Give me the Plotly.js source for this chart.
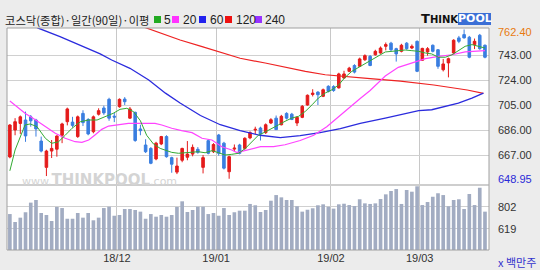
<!DOCTYPE html>
<html><head><meta charset="utf-8">
<script src="https://cdn.plot.ly/plotly-3.0.1.min.js"></script>
<style>html,body{margin:0;padding:0;background:#ececec;}#chart{width:540px;height:270px;}</style>
</head><body><div id="chart"></div>
<script>
// ---- data ----
const opens  = [665.5,686,691,693.6,696,693.6,677.6,657.6,670,671.4,682,692.3,692,681,698.6,694,684.7,698,702.7,709.3,696.5,703.7,709.5,695,699.4,686.8,674.6,672,664,675.4,681,665,654,663,665.3,667.7,671.3,657.6,677.9,669.5,682.2,676,654.3,671.5,674.6,672,680,686,687.5,684,691.3,695,690,698.6,698,691.3,695.6,705,713,714.8,711.6,719.2,719,718,725.5,730.6,735,734.4,739.4,742,743.2,744.5,749.6,752,747.8,745.8,752,748.3,753.4,739,745.3,750.4,747,731.8,737,744.5,756,758.5,756.5,750.9,758,750.4];
const highs  = [690.5,695,697,700,697.4,694.5,681,671,678.4,682,691.5,703,696,697,701,695,697,702.5,704.5,710.5,699,710,711,703.5,700,690,679,673,677,681.5,682,665.7,665,672.5,677.6,675,673,667,679,676,683,677,666.5,675,675.5,680.5,685,688.5,688.5,691,695,697,697.5,699.5,699,696.5,705,713,717,715.5,717.5,720,720,729.5,731,734,736,741,743.5,743,747,749.5,752.5,753,748.5,751.5,752.8,751,754,748.5,749,751,747.5,740,741,755,757.5,762.4,757.5,755.5,759,751];
const lows   = [664.5,682,683,677,688.5,681,669,651,664.7,665.7,676,689.5,688,680,689,682,683.5,697,697.5,693,692,703,705,694.5,677,682,668.5,660,663,674.5,665,653.5,652.5,661.5,663,666,668,653,667.5,668.5,666.5,656,648.95,669.5,667.5,671,679,683,678,683,690.5,686,689.5,694,693.5,689,695,704.5,711.5,705,711,714.5,715,717.5,725,730,729,734,738.5,734.5,742.5,744,746.5,746,738,745,747,747.5,730,738.5,742.5,745,732.5,730.5,726,744,752,755.5,740.5,747.5,747,740.5];
const closes = [689.8,692.3,696,681.5,693,686.8,670,670,672,681.4,690.6,702,689.5,696,691.6,683,696,700.7,699,695,695.8,709.3,707.5,702,678,685.5,669.5,660.7,676,681,665.7,660,658.6,672,667.7,672.8,669,665,668.3,675,668.3,657,665.7,672.2,668.3,679.7,684,686.5,683,690,693.8,686.3,696.4,695,694,695.6,704,712.4,714,712.8,716.6,715.4,716,728.6,728.6,733,730,740,742.5,735,745.8,748.3,750.9,747,743.8,750.4,747.8,749.6,730.6,748,747.8,745.8,734.4,736.2,740.2,754.2,753.4,756,741.3,753.4,747.8,741.3];
const volumes = [735,669,705,750,830,852,744,727,677,794,785,696,696,744,705,744,683,705,785,796,721,727,777,777,769,755,696,735,713,727,713,727,794,841,752,769,796,796,735,744,721,785,727,750,763,763,819,808,752,769,846,893,874,852,852,800,755,771,783,808,816,796,780,816,821,810,802,858,824,819,824,860,899,927,943,819,935,921,966,810,835,879,908,893,800,852,858,777,902,810,954,755];

const ma5X  = [0,1.0,2.9,3.9,5.2,6.8,8.0,9.3,10.6,11.9,13.5,15.1,16.7,18.3,19.8,21.1,22.4,23.7,25.0,26.2,27.5,28.8,30.1,31.0,32.3,33.6,34.9,36.1,37.4,38.7,40.0,41.2,42.5,43.8,45.1,46.4,47.6,48.9,50.2,51.5,52.7,54.0,55.3,56.6,57.9,59.1,60.4,61.7,63.0,64.2,65.5,66.8,68.1,69.3,70.6,71.9,73.2,74.4,75.7,77.0,78.3,79.6,80.8,82.1,83.4,84.7,85.9,87.2,88.5,89.8,91.0];
const ma5Y  = [655,670.8,689.8,690.6,688.5,679.7,675.9,677,682,687.3,692.3,693.6,693.6,696,698.7,701.7,702.5,699.9,693,682,675.4,672,670.3,669,668.3,668.7,669.5,669.5,668.7,670.3,668.7,667,667.5,668.3,672,677.4,682,684.5,687.5,690,692.6,695.1,696.4,700.2,705.2,710.3,714.1,716.6,720.4,726,730.6,733.6,736.9,739.4,742.8,745.3,745.8,746.3,746.8,746.3,745.8,744.5,743.8,741.3,741.3,743.2,746.3,749.6,750.9,749.6,748.3];
const ma20X = [0,1.0,2.9,4.8,6.8,8.7,10.6,12.5,13.8,15.1,16.3,17.6,18.9,20.8,22.7,25.9,27.8,29.1,31.0,32.9,34.9,36.8,38.7,40.6,42.5,43.5,45.4,48.0,50.5,52.7,55.6,58.2,60.7,63.3,65.8,67.1,69.0,70.0,71.9,74.4,77.0,79.6,82.1,84.7,87.2,89.8,91.0];
const ma20Y = [708,705,698.7,693.9,688.5,683.5,679.7,677.1,676.6,678.4,682.2,686.5,689,689.8,691,691,691,689.8,687.3,685.5,684,679.7,678.4,673.3,670.8,668.8,670.8,673.3,673.3,674.8,678,682,688.5,697.4,706.3,710,716,720,727,733.6,736.9,740.2,742,743.2,745.3,746.3,746.3];
const ma60X = [2.0,5.4,9.6,13.5,17.3,19.5,23.0,26.6,29.8,32.6,36.5,40.3,44.1,47.9,51.8,55.6,59.4,63.3,67.1,71.9,75.7,78.3,80.8,83.4,85.9,88.5,90.7];
const ma60Y = [770,763.5,757,750.5,743.8,739.2,732.9,724,714,706.5,697,690,685.5,682,680.2,681.8,684,687,691,695,698.2,700.7,701.4,704,706.5,710.3,714.1];
const ma120X = [23.0,28.8,32.6,36.5,40.3,44.1,48.9,52.7,56.6,60.4,64.2,69.0,74.8,81.2,87.6,90.7];
const ma120Y = [768,759.7,754.4,749.8,745.3,740.5,736.9,733.6,730.6,728,726.5,725,723.2,720.2,716.4,713.9];

const monthTicks = [20.5,39.5,61.5,78.5];
const monthLabels = ['18/12','19/01','19/02','19/03'];
const priceGrid = [667,686,705,724,743];
const priceLabels = ['667.00','686.00','705.00','724.00','743.00'];
const priceMax = 762.40, priceMin = 648.95;
const volGrid = [619,802];
const titleText = '코스닥(종합)·일간(90일)·이평';
const maNames = ['5','20','60','120','240'];
const maColors = ['#22aa22','#ff33ff','#2222ee','#ee1111','#9933ff'];

// ---- layout helpers (pixel -> paper for decorations) ----
const L=7,R=489,T=28,B=250;
const px = x => (x-L)/(R-L);
const py = y => (B-y)/(B-T);

const xIdx = opens.map((_,i)=>i);

const traces = [
  {type:'candlestick', x:xIdx, open:opens, high:highs, low:lows, close:closes,
   xaxis:'x', yaxis:'y', whiskerwidth:0,
   increasing:{line:{color:'#e41b1b',width:1}, fillcolor:'#e41b1b'},
   decreasing:{line:{color:'#3a7ee0',width:1}, fillcolor:'#3a7ee0'},
   hoverinfo:'skip', showlegend:false},
  {type:'scatter', mode:'lines', x:ma120X, y:ma120Y, line:{color:'#ee2222',width:1.2}, hoverinfo:'skip', showlegend:false},
  {type:'scatter', mode:'lines', x:ma60X, y:ma60Y, line:{color:'#2b2bdd',width:1.3}, hoverinfo:'skip', showlegend:false},
  {type:'scatter', mode:'lines', x:ma20X, y:ma20Y, line:{color:'#ff44ff',width:1.2}, hoverinfo:'skip', showlegend:false},
  {type:'scatter', mode:'lines', x:ma5X, y:ma5Y, line:{color:'#33aa33',width:1}, hoverinfo:'skip', showlegend:false},
  {type:'bar', x:xIdx, y:volumes, xaxis:'x', yaxis:'y2', marker:{color:'#a2acc2'}, hoverinfo:'skip', showlegend:false}
];

const annotations = [];
// right price labels
priceGrid.forEach((v,i)=>annotations.push({xref:'paper',yref:'y',x:1,y:v,xanchor:'left',yanchor:'middle',xshift:7,
  text:priceLabels[i],showarrow:false,font:{family:'Liberation Sans',size:11,color:'#333'}}));
annotations.push({xref:'paper',yref:'y',x:1,y:priceMax,xanchor:'left',yanchor:'middle',xshift:7,yshift:-3,
  text:priceMax.toFixed(2),showarrow:false,font:{family:'Liberation Sans',size:11,color:'#e87a10'}});
annotations.push({xref:'paper',yref:'y',x:1,y:priceMin,xanchor:'left',yanchor:'middle',xshift:7,
  text:priceMin.toFixed(2),showarrow:false,font:{family:'Liberation Sans',size:11,color:'#2a2ad8'}});
volGrid.forEach(v=>annotations.push({xref:'paper',yref:'y2',x:1,y:v,xanchor:'left',yanchor:'middle',xshift:7,yshift:-1,
  text:String(v),showarrow:false,font:{family:'Liberation Sans',size:11,color:'#333'}}));
annotations.push({xref:'paper',yref:'paper',x:px(496),y:py(262),xanchor:'left',yanchor:'middle',
  text:'x 백만주',showarrow:false,font:{family:'Noto Sans CJK KR',size:11,color:'#3333cc'}});
// title + MA legend
annotations.push({xref:'paper',yref:'paper',x:px(3),y:py(19.5),xanchor:'left',yanchor:'middle',
  text:titleText,showarrow:false,font:{family:'Noto Sans CJK KR',size:11.3,color:'#222'}});
const legSq = [154,172,199,225,255];
const legTx = [162,181,208,234,263];
const shapes = [];
maNames.forEach((n,i)=>{
  shapes.push({type:'rect',xref:'paper',yref:'paper',x0:px(legSq[i]),x1:px(legSq[i]+7),y0:py(23),y1:py(16),
    fillcolor:maColors[i],line:{width:0}});
  annotations.push({xref:'paper',yref:'paper',x:px(legTx[i]),y:py(19.5),xanchor:'left',yanchor:'middle',
    text:n,showarrow:false,font:{family:'Liberation Sans',size:12,color:'#222'}});
});
// logo
annotations.push({xref:'paper',yref:'paper',x:px(419),y:py(19),xanchor:'left',yanchor:'middle',
  text:'<b>T<span style="font-size:10px">HINK</span></b>',showarrow:false,font:{family:'DejaVu Sans',size:13,color:'#111'}});
shapes.push({type:'rect',xref:'paper',yref:'paper',x0:px(458),x1:px(491),y0:py(25),y1:py(13),fillcolor:'#3b6fd6',line:{width:0}});
annotations.push({xref:'paper',yref:'paper',x:px(474.5),y:py(19),xanchor:'center',yanchor:'middle',
  text:'<b>POOL</b>',showarrow:false,font:{family:'DejaVu Sans',size:11,color:'#ffffff'}});
// watermark
annotations.push({xref:'paper',yref:'paper',x:px(20),y:py(180),xanchor:'left',yanchor:'middle',
  text:'www.<b><span style="font-size:15px">THINKPOOL</span></b>.com',showarrow:false,font:{family:'DejaVu Sans',size:11,color:'#d4d4d4'}});
// frame + separator
shapes.push({type:'rect',xref:'paper',yref:'paper',x0:0,x1:1,y0:0,y1:1,line:{color:'#a0a0a0',width:1}});
shapes.push({type:'line',xref:'paper',yref:'paper',x0:0,x1:1,y0:py(185),y1:py(185),line:{color:'#b0b0b0',width:1}});

const layout = {
  width:540, height:270,
  margin:{l:L, r:540-R, t:T, b:270-B, pad:0},
  paper_bgcolor:'#ececec', plot_bgcolor:'#ffffff',
  showlegend:false, hovermode:false, bargap:0.3, boxgap:0.3,
  xaxis:{range:[-0.55,91.77], anchor:'y2', tickvals:monthTicks, ticktext:monthLabels, ticks:'',
    showgrid:true, gridcolor:'#c8c8c8', zeroline:false, showline:false,
    tickfont:{family:'Liberation Sans',size:11,color:'#333'}, rangeslider:{visible:false}, fixedrange:true},
  yaxis:{domain:[py(184),1], range:[743-(184-55)*0.76, 743+(55-T)*0.76], tickvals:priceGrid, showticklabels:false,
    showgrid:true, gridcolor:'#d0d0d0', zeroline:false, showline:false, ticks:''},
  yaxis2:{domain:[0,py(186)], range:[802-(B-206)*8.32, 802+(206-186)*8.32], tickvals:volGrid, showticklabels:false,
    showgrid:true, gridcolor:'#d0d0d0', zeroline:false, showline:false, ticks:''},
  annotations:annotations, shapes:shapes
};
Plotly.newPlot('chart', traces, layout, {staticPlot:true, displayModeBar:false});
</script></body></html>
